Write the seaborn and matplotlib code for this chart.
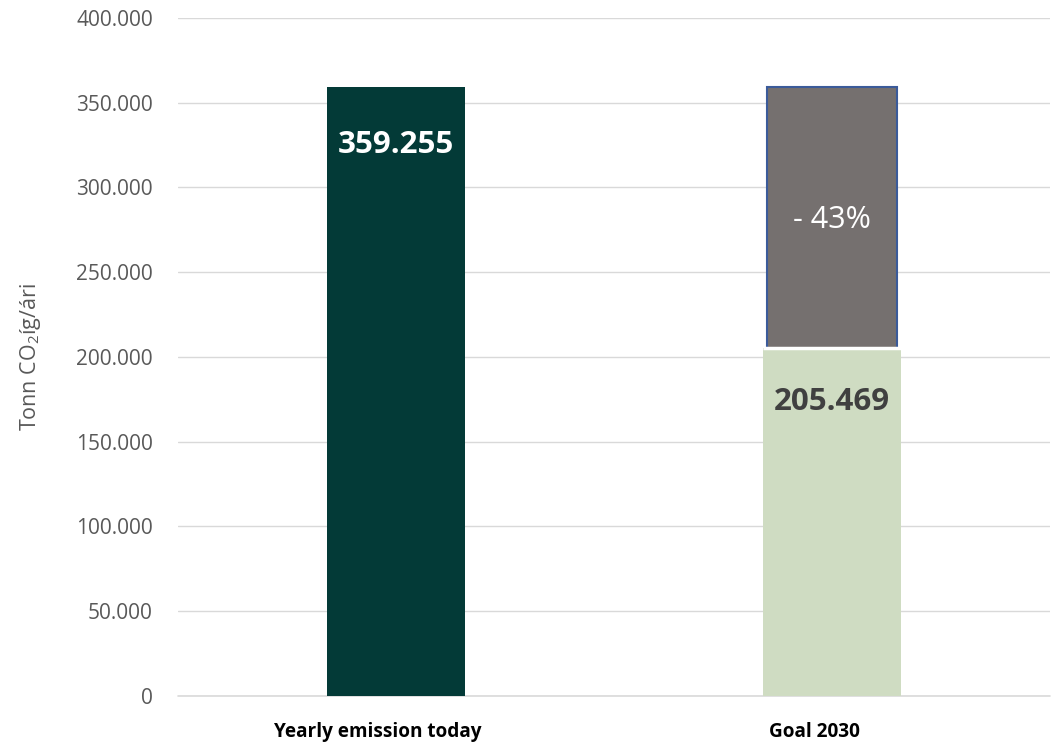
import matplotlib
matplotlib.use("Agg")
import matplotlib.pyplot as plt
import matplotlib.transforms as mtransforms
import seaborn as sns
import pandas as pd
from matplotlib.ticker import FuncFormatter

categories = ["Yearly emission today", "Goal 2030"]
totals = [359255, 359255]
base_values = [359255, 205469]
reduction_label = "- 43%"
y_ticks = [0, 50000, 100000, 150000, 200000, 250000, 300000, 350000, 400000]
y_label = "Tonn CO$_2$íg/ári"

sns.set_theme(style="white")
plt.rcParams['font.family'] = ['Open Sans', 'DejaVu Sans']
plt.rcParams['mathtext.fontset'] = 'custom'
plt.rcParams['mathtext.rm'] = 'Open Sans'

fig = plt.figure(figsize=(10.57, 7.47), dpi=100)
ax = fig.add_axes([0.1684, 0.0683, 0.825, 0.9076])

df_tot = pd.DataFrame({"cat": categories, "val": totals})
df_base = pd.DataFrame({"cat": categories, "val": base_values})

sns.barplot(data=df_tot, x="cat", y="val", hue="cat", saturation=1,
            palette=["#033A37", "#75706F"], width=0.30, ax=ax, legend=False,
            edgecolor="#3B5B9A", linewidth=1.5, zorder=2)
ax.patches[0].set_edgecolor("none")
sns.barplot(data=df_base, x="cat", y="val", hue="cat", saturation=1,
            palette=["#033A37", "#CFDCC2"], width=0.315, ax=ax, legend=False,
            edgecolor="white", linewidth=0, zorder=3)
# thin white gap between the stacked segments
ax.patches[-1].set_linewidth(0)
ax.hlines(base_values[1], 0.842, 1.158, color="white", linewidth=2.5, zorder=4)

ax.set_ylim(0, 400000)
ax.set_xlim(-0.5, 1.5)
ax.set_yticks(y_ticks)
ax.yaxis.set_major_formatter(FuncFormatter(lambda v, p: f"{int(v):,}".replace(",", ".")))
ax.grid(axis="y", color="#D9D9D9", linewidth=1, zorder=0)
ax.set_axisbelow(True)
ax.axhline(0, color="#D9D9D9", linewidth=1.2, clip_on=False, zorder=1)
for s in ax.spines.values():
    s.set_visible(False)
ax.tick_params(axis="y", length=0, pad=18, labelsize=15, labelcolor="#595959")
ax.tick_params(axis="x", length=0, pad=19, labelsize=13.7, labelcolor="#000000")
offset = mtransforms.ScaledTranslation(-18 / 100, 0, fig.dpi_scale_trans)
for t in ax.get_xticklabels():
    t.set_fontweight("bold")
    t.set_transform(t.get_transform() + offset)
ax.set_xlabel("")
ax.set_ylabel(y_label, fontsize=15.5, color="#595959", labelpad=24)

ax.text(0, 325000, f"{base_values[0]:,}".replace(",", "."), ha="center", va="center",
        color="white", fontsize=22.5, fontweight="bold", zorder=5)
ax.text(1, 173500, f"{base_values[1]:,}".replace(",", "."), ha="center", va="center",
        color="#404040", fontsize=22.5, fontweight="bold", zorder=5)
ax.text(1, 281000, reduction_label, ha="center", va="center",
        color="white", fontsize=22, zorder=5)

fig.savefig("out.png", dpi=100)
